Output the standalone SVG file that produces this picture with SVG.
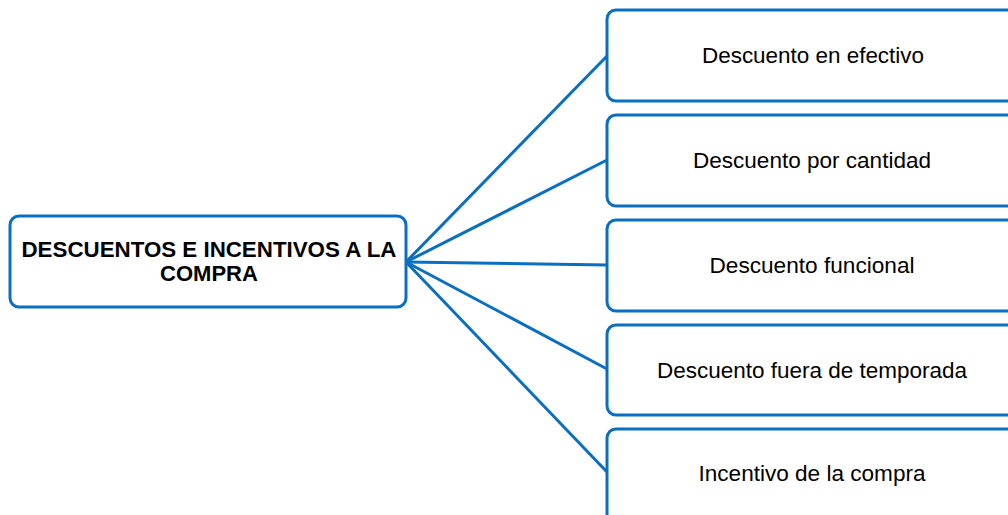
<svg xmlns="http://www.w3.org/2000/svg" width="1008" height="515" viewBox="0 0 1008 515">
  <style>
    .box { fill: #ffffff; stroke: #0A6FC0; stroke-width: 3; }
    .link { stroke: #0A6FC0; stroke-width: 3; fill: none; stroke-linecap: round; }
    .label { font-family: "Liberation Sans", Arial, sans-serif; font-size: 22px; fill: #000000; text-anchor: middle; }
    .root { font-family: "Liberation Sans", Arial, sans-serif; font-size: 22px; font-weight: bold; fill: #000000; text-anchor: middle; }
  </style>
  <rect width="1008" height="515" fill="#ffffff"/>

  <!-- connectors from the central topic to each branch -->
  <g id="connectors">
    <line class="link" x1="406" y1="262" x2="607" y2="56"/>
    <line class="link" x1="406" y1="262" x2="607" y2="160"/>
    <line class="link" x1="406" y1="262" x2="607" y2="265"/>
    <line class="link" x1="406" y1="262" x2="607" y2="369"/>
    <line class="link" x1="406" y1="262" x2="607" y2="472"/>
  </g>

  <g id="root">
    <rect class="box" x="10" y="216" width="396" height="91" rx="9"/>
    <text class="root" x="209" y="257" textLength="375" lengthAdjust="spacingAndGlyphs">DESCUENTOS E INCENTIVOS A LA</text>
    <text class="root" x="209" y="281">COMPRA</text>
  </g>

  <g id="efectivo">
    <rect class="box" x="607" y="10" width="420" height="91" rx="9"/>
    <text class="label" x="813" y="63" textLength="222" lengthAdjust="spacingAndGlyphs">Descuento en efectivo</text>
  </g>

  <g id="cantidad">
    <rect class="box" x="607" y="115" width="420" height="91" rx="9"/>
    <text class="label" x="812" y="168" textLength="238" lengthAdjust="spacingAndGlyphs">Descuento por cantidad</text>
  </g>

  <g id="funcional">
    <rect class="box" x="607" y="220" width="420" height="91" rx="9"/>
    <text class="label" x="812" y="273" textLength="205" lengthAdjust="spacingAndGlyphs">Descuento funcional</text>
  </g>

  <g id="temporada">
    <rect class="box" x="607" y="325" width="420" height="90" rx="9"/>
    <text class="label" x="812" y="378" textLength="310" lengthAdjust="spacingAndGlyphs">Descuento fuera de temporada</text>
  </g>

  <g id="incentivo">
    <rect class="box" x="607" y="429" width="420" height="100" rx="9"/>
    <text class="label" x="812" y="481" textLength="227" lengthAdjust="spacingAndGlyphs">Incentivo de la compra</text>
  </g>
</svg>
